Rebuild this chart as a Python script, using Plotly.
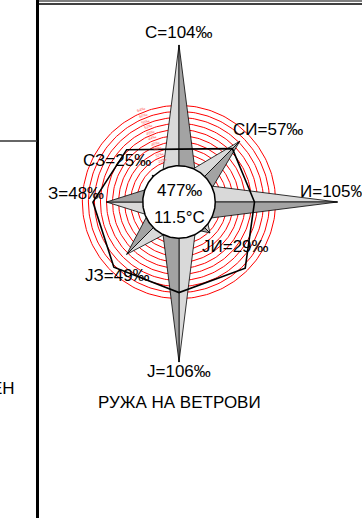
import numpy as np
import plotly.graph_objects as go

# Wind directions (clockwise from north) and their frequencies in per mille
directions = ["С", "СИ", "И", "ЈИ", "Ј", "ЈЗ", "З", "СЗ"]
frequency = [104, 57, 105, 29, 106, 49, 48, 25]
# Secondary octagon drawn around the rose
outline_vals = [35, 50, 50, 62, 60, 61, 57, 49]
# Reference rings (per mille)
ring_vals = [28, 32, 36, 40, 44, 48, 52, 56, 60, 64]
calm_text = "477‰"
temp_text = "11.5°C"
title_text = "РУЖА НА ВЕТРОВИ"

# ---- layout constants (pixels) ----
W, H = 362, 518
PX = 1.51            # pixels per per-mille unit
CX, CY = 179, 202    # rose centre in page pixels
CALM_R = 24          # radius of the central disc (per mille units)
ARM_BASE, ARM_HALF = 10, 12
FONT = "Liberation Sans, Arial, sans-serif"

ang = np.deg2rad(90 - 45 * np.arange(len(directions)))
ux, uy = np.cos(ang), np.sin(ang)
nx, ny = -uy, ux     # counter-clockwise normal

fig = go.Figure()

# red rings
t = np.linspace(0, 2 * np.pi, 241)
rx, ry = [], []
for r in ring_vals:
    rx += list(r * np.cos(t)) + [None]
    ry += list(r * np.sin(t)) + [None]
fig.add_trace(go.Scatter(x=rx, y=ry, mode="lines",
                         line=dict(color="#ff0000", width=1), hoverinfo="skip"))

# star arms: light half on the counter-clockwise side, dark half on the other
for i, v in enumerate(frequency):
    tip = (v * ux[i], v * uy[i])
    bx, by = ARM_BASE * ux[i], ARM_BASE * uy[i]
    for sgn, col in ((1, "#d9d9d9"), (-1, "#a3a3a3")):
        side = (bx + sgn * ARM_HALF * nx[i], by + sgn * ARM_HALF * ny[i])
        fig.add_trace(go.Scatter(
            x=[0, side[0], tip[0], 0], y=[0, side[1], tip[1], 0],
            mode="lines", fill="toself", fillcolor=col,
            line=dict(color="black", width=0.8), hoverinfo="skip"))

# black octagon
ox = list(np.array(outline_vals) * ux) + [outline_vals[0] * ux[0]]
oy = list(np.array(outline_vals) * uy) + [outline_vals[0] * uy[0]]
fig.add_trace(go.Scatter(x=ox, y=oy, mode="lines",
                         line=dict(color="black", width=1.6), hoverinfo="skip"))

# central disc
fig.add_trace(go.Scatter(x=CALM_R * np.cos(t), y=CALM_R * np.sin(t), mode="lines",
                         fill="toself", fillcolor="white",
                         line=dict(color="black", width=1.5), hoverinfo="skip"))

ann = []
# direction labels, offset from each arm tip (px)
label_shift = [(0, 12), (28, 12), (-4, 11), (26, -14), (0, -9), (-9, -21), (-31, 9), (-35, 15)]
for i, (d, v) in enumerate(zip(directions, frequency)):
    ann.append(dict(x=v * ux[i], y=v * uy[i], xref="x", yref="y",
                    text=f"{d}={v}‰", showarrow=False,
                    xshift=label_shift[i][0], yshift=label_shift[i][1],
                    font=dict(family=FONT, size=17, color="black")))

# ring value marks along the NNW bearing
a_r = np.deg2rad(112.5)
for r in ring_vals:
    ann.append(dict(x=(r + 2) * np.cos(a_r), y=(r + 2) * np.sin(a_r), xref="x", yref="y",
                    text=f"{r}‰", showarrow=False, textangle=-20,
                    font=dict(family=FONT, size=4, color="#ff5050")))

ann.append(dict(x=0, y=0, xref="x", yref="y", text=calm_text, showarrow=False, yshift=12,
                font=dict(family=FONT, size=17, color="black")))
ann.append(dict(x=0, y=0, xref="x", yref="y", text=temp_text, showarrow=False, yshift=-15,
                font=dict(family=FONT, size=17, color="black")))
ann.append(dict(x=0, y=1 - 402 / H, xref="x", yref="paper", yanchor="middle",
                text=title_text, showarrow=False,
                font=dict(family=FONT, size=17, color="black")))
ann.append(dict(x=17 / W, y=1 - 388 / H, xref="paper", yref="paper", text="ЕН",
                xanchor="right", yanchor="middle", showarrow=False,
                font=dict(family=FONT, size=17, color="black")))

# sheet frame lines
shapes = [
    dict(type="line", xref="paper", yref="paper", x0=37.5 / W, x1=37.5 / W, y0=0, y1=1,
         line=dict(color="black", width=3)),
    dict(type="line", xref="paper", yref="paper", x0=38 / W, x1=1, y0=1 - 1 / H, y1=1 - 1 / H,
         line=dict(color="black", width=1.2)),
    dict(type="line", xref="paper", yref="paper", x0=38 / W, x1=1, y0=1 - 4 / H, y1=1 - 4 / H,
         line=dict(color="black", width=1.5)),
    dict(type="line", xref="paper", yref="paper", x0=0, x1=37 / W, y0=1 - 141 / H, y1=1 - 141 / H,
         line=dict(color="#333333", width=1.5)),
]

fig.update_layout(
    width=W, height=H, margin=dict(l=0, r=0, t=0, b=0),
    paper_bgcolor="white", plot_bgcolor="white", showlegend=False,
    xaxis=dict(range=[-CX / PX, (W - CX) / PX], visible=False, fixedrange=True),
    yaxis=dict(range=[(CY - H) / PX, CY / PX], visible=False, fixedrange=True),
    annotations=ann, shapes=shapes,
)

fig.write_html("out.html")
